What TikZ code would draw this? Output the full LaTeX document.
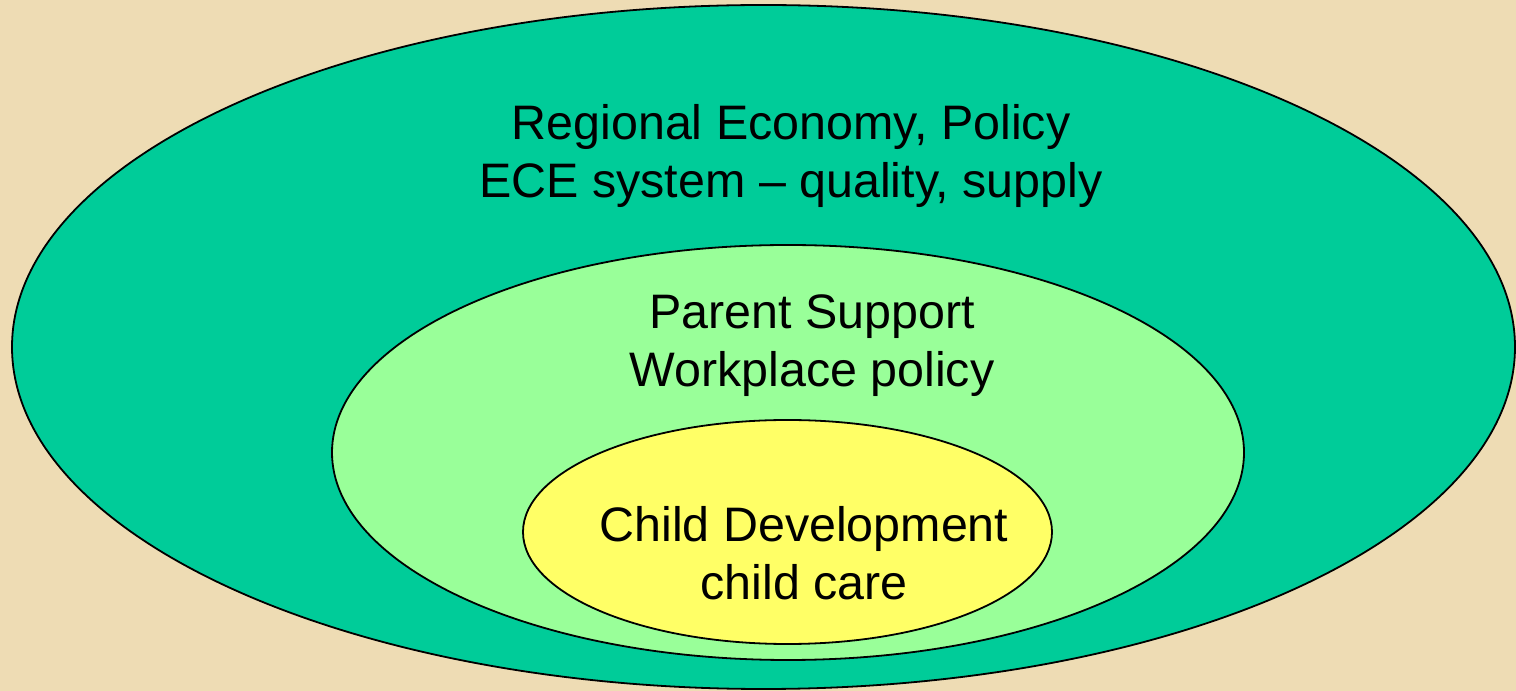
\documentclass[tikz,border=0pt]{standalone}
\usepackage{fontspec}
\setmainfont{Liberation Sans}
\usetikzlibrary{shapes.geometric}
\definecolor{parchment}{HTML}{EEDCB4}
\definecolor{regional}{HTML}{00CC99}
\definecolor{parent}{HTML}{99FF99}
\definecolor{child}{HTML}{FFFF66}
\tikzset{ring/.style={ellipse,draw=black,line width=1.8pt,inner sep=0pt},
 ringtext/.style={align=center,font=\fontsize{48.4}{58}\selectfont,inner sep=0pt}}

\begin{document}
\begin{tikzpicture}[x=1pt,y=1pt]
\useasboundingbox[fill=parchment] (0,0) rectangle (1516,691);
% nested rings, outermost first
\node[ring,fill=regional,minimum width=1503pt,minimum height=684pt] (outer) at (763.5,344) {};
\node[ring,fill=parent,minimum width=912pt,minimum height=415pt] (middle) at (788,238.5) {};
\node[ring,fill=child,minimum width=529pt,minimum height=224pt] (inner) at (787.5,159) {};
% labels
\node[ringtext] (outerlbl) at (791,535) {Regional Economy, Policy\\ECE system -- quality, supply};
\node[ringtext] (middlelbl) at (812,345) {Parent Support\\Workplace policy};
\node[ringtext] (innerlbl) at (804,138) {Child Development\\child care};
\end{tikzpicture}
\end{document}
